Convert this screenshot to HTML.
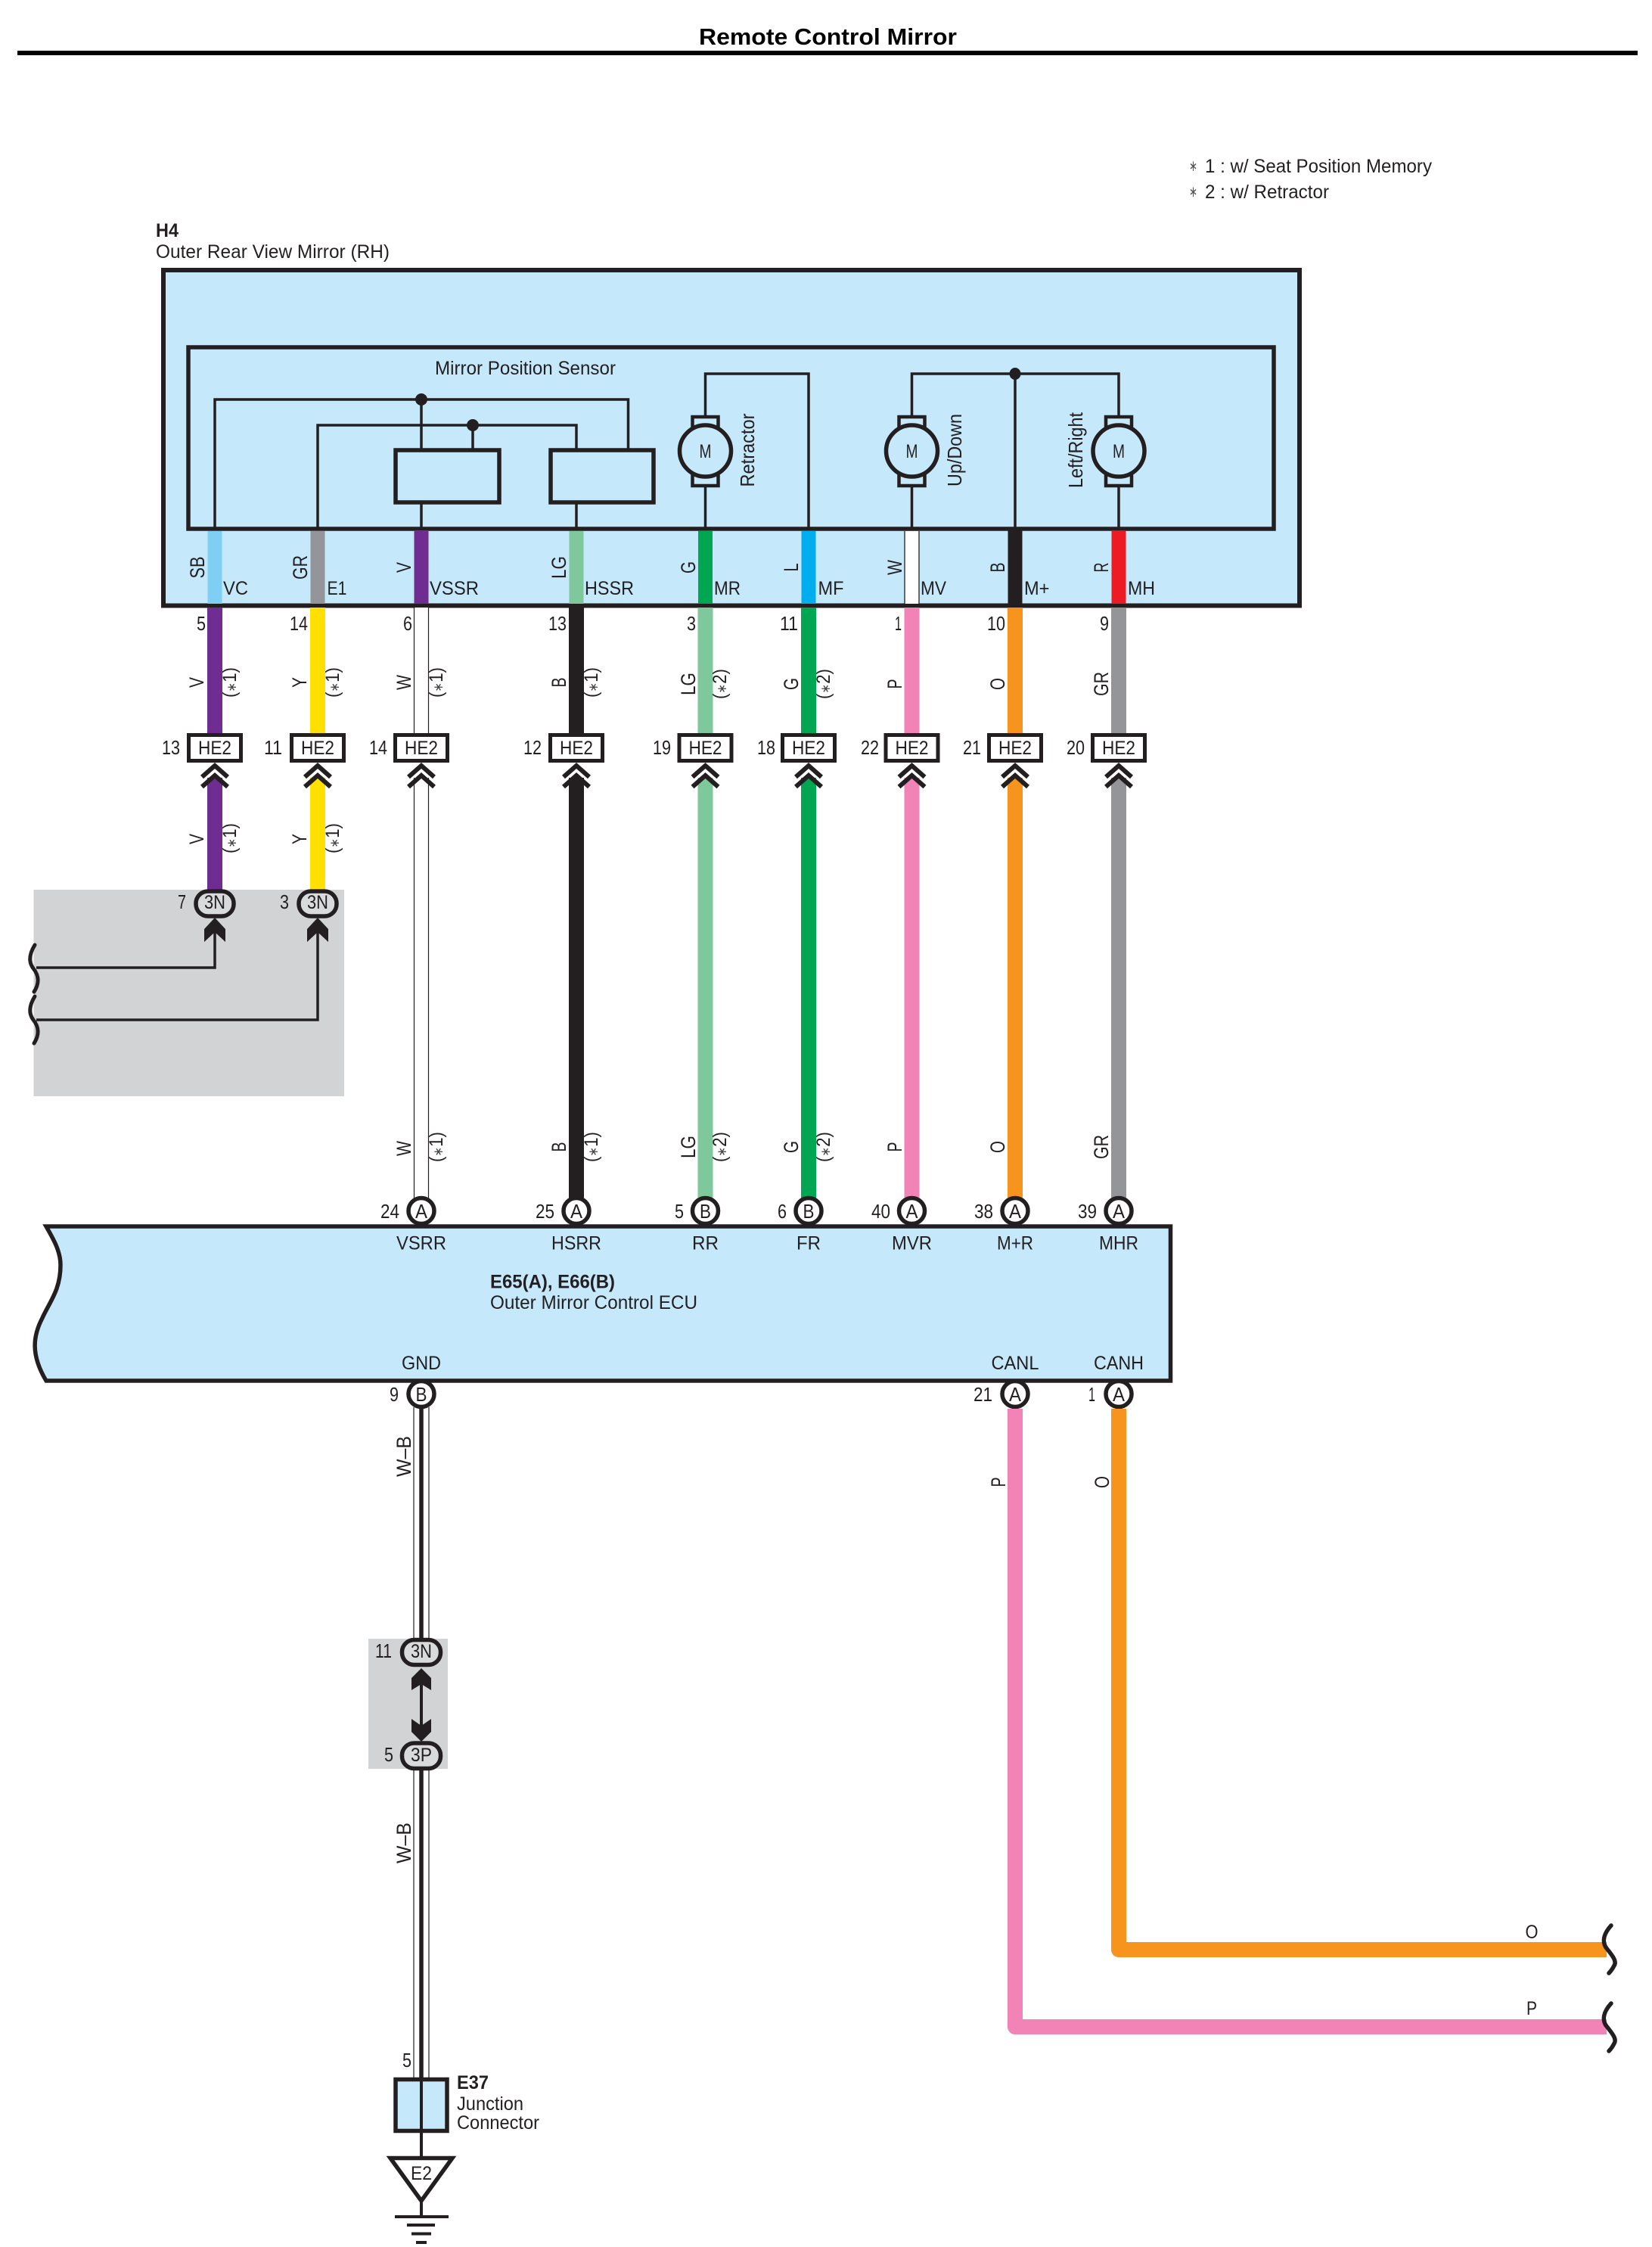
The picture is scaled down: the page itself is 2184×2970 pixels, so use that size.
<!DOCTYPE html>
<html><head><meta charset="utf-8"><title>Remote Control Mirror</title>
<style>
html,body{margin:0;padding:0;background:#fff}
svg{display:block}
text{font-family:"Liberation Sans",sans-serif;font-size:25px;fill:#231f20}
.b{font-weight:bold}
.m{text-anchor:middle}
.e{text-anchor:end;font-size:26px}
.r{font-size:27px;text-anchor:middle}
.s{font-size:25px;text-anchor:middle}
.s tspan{font-size:17px;fill:#444}
.t{font-size:26px;text-anchor:middle}
.l{fill:none;stroke:#231f20;stroke-width:3.5}
</style></head><body>
<svg xmlns="http://www.w3.org/2000/svg" width="2184" height="2970" viewBox="0 0 2184 2970">
<defs>
<g id="chev"><path d="M-17 1027L0 1012L17 1027M-17 1040L0 1025L17 1040" fill="none" stroke="#231f20" stroke-width="6"/></g>
<g id="motor"><rect x="-17" y="551" width="34" height="22" fill="#c5e8fb" stroke="#231f20" stroke-width="4.5"/><rect x="-17" y="620" width="34" height="22" fill="#c5e8fb" stroke="#231f20" stroke-width="4.5"/><ellipse cx="0" cy="596" rx="34" ry="34" fill="#c5e8fb" stroke="#231f20" stroke-width="5.5"/></g>
<g id="arrU"><path d="M0 0L14 15V32L0 19L-14 32V15Z" fill="#231f20"/></g>
<path id="sq" d="M0 0C-8 13-8 23-2 31C6 41 6 51-1 62" fill="none" stroke="#231f20" stroke-width="5" stroke-linecap="round"/>
</defs>
<rect width="2184" height="2970" fill="#fff"/>

<!-- title -->
<text class="b m" x="1094.500" y="59" style="font-size:31px;fill:#000" textLength="341" lengthAdjust="spacingAndGlyphs">Remote Control Mirror</text>
<rect x="23" y="67" width="2142" height="6" fill="#000"/>

<!-- notes -->
<text x="1572" y="226" style="font-size:20px;fill:#555" textLength="11" lengthAdjust="spacingAndGlyphs">∗</text>
<text x="1593" y="228" textLength="300" lengthAdjust="spacingAndGlyphs">1 : w/ Seat Position Memory</text>
<text x="1572" y="260" style="font-size:20px;fill:#555" textLength="11" lengthAdjust="spacingAndGlyphs">∗</text>
<text x="1593" y="262" textLength="164" lengthAdjust="spacingAndGlyphs">2 : w/ Retractor</text>

<text class="b" x="206" y="313" textLength="30" lengthAdjust="spacingAndGlyphs">H4</text>
<text x="206" y="341" textLength="309" lengthAdjust="spacingAndGlyphs">Outer Rear View Mirror (RH)</text>

<!-- mirror box -->
<rect x="216" y="357" width="1502" height="443.500" fill="#c5e8fb" stroke="#231f20" stroke-width="6"/>
<rect x="249" y="459" width="1435" height="240" fill="#c5e8fb" stroke="#231f20" stroke-width="5.500"/>

<text x="575" y="495" textLength="239" lengthAdjust="spacingAndGlyphs">Mirror Position Sensor</text>

<!-- internal wiring -->
<path class="l" d="M284 699V528H830.500V595M420 699V562H762V595M557 528V595M625 562V595M557 664V699M762 664V699"/>
<path class="l" d="M932.500 699V494H1069V699M1205.500 699V494H1479V699M1342 494V699"/>
<ellipse cx="557" cy="528" rx="8" ry="8" fill="#231f20"/>
<ellipse cx="625" cy="562" rx="8" ry="8" fill="#231f20"/>
<ellipse cx="1342" cy="494" rx="7.500" ry="8" fill="#231f20"/>
<rect x="523" y="595" width="137" height="69" fill="#c5e8fb" stroke="#231f20" stroke-width="5.500"/>
<rect x="728" y="595" width="136" height="69" fill="#c5e8fb" stroke="#231f20" stroke-width="5.500"/>
<use href="#motor" transform="translate(932.500,0)"/>
<use href="#motor" transform="translate(1205.500,0)"/>
<use href="#motor" transform="translate(1479,0)"/>
<text class="m" x="932.500" y="605" textLength="16" lengthAdjust="spacingAndGlyphs">M</text>
<text class="m" x="1205.500" y="605" textLength="16" lengthAdjust="spacingAndGlyphs">M</text>
<text class="m" x="1479" y="605" textLength="16" lengthAdjust="spacingAndGlyphs">M</text>
<text class="m" transform="translate(997,595) rotate(-90)" style="font-size:26px" textLength="97" lengthAdjust="spacingAndGlyphs">Retractor</text>
<text class="m" transform="translate(1271,595) rotate(-90)" style="font-size:26px" textLength="96" lengthAdjust="spacingAndGlyphs">Up/Down</text>
<text class="m" transform="translate(1431,595) rotate(-90)" style="font-size:26px" textLength="100" lengthAdjust="spacingAndGlyphs">Left/Right</text>

<!-- wire stubs inside box -->
<rect x="274.500" y="702" width="19" height="96" fill="#7fcff5"/>
<rect x="410.500" y="702" width="19" height="96" fill="#939598"/>
<rect x="547.500" y="702" width="19" height="96" fill="#6f2c91"/>
<rect x="752.500" y="702" width="19" height="96" fill="#7fc89b"/>
<rect x="923" y="702" width="19" height="96" fill="#00a651"/>
<rect x="1059.500" y="702" width="19" height="96" fill="#00aeef"/>
<rect x="1196" y="702" width="19" height="96" fill="#fff"/><path d="M1196 702V798M1215 702V798" stroke="#231f20" stroke-width="1.300"/>
<rect x="1332.500" y="697" width="19" height="101" fill="#231f20"/>
<rect x="1469.500" y="702" width="19" height="96" fill="#ed1c24"/>

<!-- stub labels -->
<text class="r" transform="translate(270,750) rotate(-90)" textLength="29" lengthAdjust="spacingAndGlyphs">SB</text>
<text class="r" transform="translate(406,750) rotate(-90)" textLength="32" lengthAdjust="spacingAndGlyphs">GR</text>
<text class="r" transform="translate(543,750) rotate(-90)" textLength="14" lengthAdjust="spacingAndGlyphs">V</text>
<text class="r" transform="translate(748,750) rotate(-90)" textLength="30" lengthAdjust="spacingAndGlyphs">LG</text>
<text class="r" transform="translate(919,750) rotate(-90)" textLength="16" lengthAdjust="spacingAndGlyphs">G</text>
<text class="r" transform="translate(1055,750) rotate(-90)" textLength="11" lengthAdjust="spacingAndGlyphs">L</text>
<text class="r" transform="translate(1192,750) rotate(-90)" textLength="20" lengthAdjust="spacingAndGlyphs">W</text>
<text class="r" transform="translate(1328,750) rotate(-90)" textLength="13" lengthAdjust="spacingAndGlyphs">B</text>
<text class="r" transform="translate(1465,750) rotate(-90)" textLength="13" lengthAdjust="spacingAndGlyphs">R</text>

<text x="295" y="786" textLength="33" lengthAdjust="spacingAndGlyphs">VC</text>
<text x="432.500" y="786" textLength="26" lengthAdjust="spacingAndGlyphs">E1</text>
<text x="568" y="786" textLength="65" lengthAdjust="spacingAndGlyphs">VSSR</text>
<text x="773" y="786" textLength="65" lengthAdjust="spacingAndGlyphs">HSSR</text>
<text x="944" y="786" textLength="35" lengthAdjust="spacingAndGlyphs">MR</text>
<text x="1081.500" y="786" textLength="34" lengthAdjust="spacingAndGlyphs">MF</text>
<text x="1217" y="786" textLength="34" lengthAdjust="spacingAndGlyphs">MV</text>
<text x="1354" y="786" textLength="33.500" lengthAdjust="spacingAndGlyphs">M+</text>
<text x="1491" y="786" textLength="36" lengthAdjust="spacingAndGlyphs">MH</text>

<!-- upper wire segments -->
<rect x="274" y="803" width="20" height="166" fill="#6f2c91"/>
<rect x="410" y="803" width="20" height="166" fill="#ffe000"/>
<rect x="547.500" y="803" width="19" height="166" fill="#fff"/><path d="M547.500 803V969M566.500 803V969" stroke="#231f20" stroke-width="1.200"/>
<rect x="752" y="803" width="20" height="166" fill="#231f20"/>
<rect x="922.500" y="803" width="20" height="166" fill="#7fc89b"/>
<rect x="1059" y="803" width="20" height="166" fill="#00a651"/>
<rect x="1195.500" y="803" width="20" height="166" fill="#f283b6"/>
<rect x="1332" y="803" width="20" height="166" fill="#f7941d"/>
<rect x="1469" y="803" width="20" height="166" fill="#939598"/>

<!-- upper pin numbers -->
<text class="e" x="272" y="833" textLength="12" lengthAdjust="spacingAndGlyphs">5</text>
<text class="e" x="407" y="833" textLength="24" lengthAdjust="spacingAndGlyphs">14</text>
<text class="e" x="545" y="833" textLength="12" lengthAdjust="spacingAndGlyphs">6</text>
<text class="e" x="749" y="833" textLength="24" lengthAdjust="spacingAndGlyphs">13</text>
<text class="e" x="920" y="833" textLength="12" lengthAdjust="spacingAndGlyphs">3</text>
<text class="e" x="1055" y="833" textLength="24" lengthAdjust="spacingAndGlyphs">11</text>
<text class="e" x="1192" y="833" textLength="9" lengthAdjust="spacingAndGlyphs">1</text>
<text class="e" x="1329" y="833" textLength="24" lengthAdjust="spacingAndGlyphs">10</text>
<text class="e" x="1466" y="833" textLength="12" lengthAdjust="spacingAndGlyphs">9</text>

<!-- upper wire colour labels -->
<text class="r" transform="translate(269,902) rotate(-90)" textLength="14" lengthAdjust="spacingAndGlyphs">V</text>
<text class="s" transform="translate(312,902) rotate(-90)" textLength="40" lengthAdjust="spacingAndGlyphs">(<tspan>∗</tspan>1)</text>
<text class="r" transform="translate(405,902) rotate(-90)" textLength="14" lengthAdjust="spacingAndGlyphs">Y</text>
<text class="s" transform="translate(448,902) rotate(-90)" textLength="40" lengthAdjust="spacingAndGlyphs">(<tspan>∗</tspan>1)</text>
<text class="r" transform="translate(543,902) rotate(-90)" textLength="20" lengthAdjust="spacingAndGlyphs">W</text>
<text class="s" transform="translate(585,902) rotate(-90)" textLength="40" lengthAdjust="spacingAndGlyphs">(<tspan>∗</tspan>1)</text>
<text class="r" transform="translate(748,902) rotate(-90)" textLength="13" lengthAdjust="spacingAndGlyphs">B</text>
<text class="s" transform="translate(790,902) rotate(-90)" textLength="40" lengthAdjust="spacingAndGlyphs">(<tspan>∗</tspan>1)</text>
<text class="r" transform="translate(919,904) rotate(-90)" textLength="30" lengthAdjust="spacingAndGlyphs">LG</text>
<text class="s" transform="translate(960,904) rotate(-90)" textLength="40" lengthAdjust="spacingAndGlyphs">(<tspan>∗</tspan>2)</text>
<text class="r" transform="translate(1055,904) rotate(-90)" textLength="16" lengthAdjust="spacingAndGlyphs">G</text>
<text class="s" transform="translate(1097,904) rotate(-90)" textLength="40" lengthAdjust="spacingAndGlyphs">(<tspan>∗</tspan>2)</text>
<text class="r" transform="translate(1192,904) rotate(-90)" textLength="13" lengthAdjust="spacingAndGlyphs">P</text>
<text class="r" transform="translate(1328,904) rotate(-90)" textLength="16" lengthAdjust="spacingAndGlyphs">O</text>
<text class="r" transform="translate(1465,904) rotate(-90)" textLength="32" lengthAdjust="spacingAndGlyphs">GR</text>

<!-- grey box A -->
<rect x="44.500" y="1176" width="410.500" height="273" fill="#d1d3d4"/>

<!-- lower wire segments -->
<rect x="274" y="1028" width="20" height="150" fill="#6f2c91"/>
<rect x="410" y="1028" width="20" height="150" fill="#ffe000"/>
<rect x="547.500" y="1028" width="19" height="556" fill="#fff"/><path d="M547.500 1028V1584M566.500 1028V1584" stroke="#231f20" stroke-width="1.200"/>
<rect x="752" y="1028" width="20" height="556" fill="#231f20"/>
<rect x="922.500" y="1028" width="20" height="556" fill="#7fc89b"/>
<rect x="1059" y="1028" width="20" height="556" fill="#00a651"/>
<rect x="1195.500" y="1028" width="20" height="556" fill="#f283b6"/>
<rect x="1332" y="1028" width="20" height="556" fill="#f7941d"/>
<rect x="1469" y="1028" width="20" height="556" fill="#939598"/>

<!-- chevrons -->
<use href="#chev" transform="translate(284,0)"/>
<use href="#chev" transform="translate(420,0)"/>
<use href="#chev" transform="translate(557,0)"/>
<use href="#chev" transform="translate(762,0)"/>
<use href="#chev" transform="translate(932.500,0)"/>
<use href="#chev" transform="translate(1069,0)"/>
<use href="#chev" transform="translate(1205.500,0)"/>
<use href="#chev" transform="translate(1342,0)"/>
<use href="#chev" transform="translate(1479,0)"/>

<!-- HE2 connectors -->
<rect x="249.500" y="971.500" width="69" height="34" fill="#fff" stroke="#231f20" stroke-width="5"/>
<rect x="385.500" y="971.500" width="69" height="34" fill="#fff" stroke="#231f20" stroke-width="5"/>
<rect x="522.500" y="971.500" width="69" height="34" fill="#fff" stroke="#231f20" stroke-width="5"/>
<rect x="727.500" y="971.500" width="69" height="34" fill="#fff" stroke="#231f20" stroke-width="5"/>
<rect x="898" y="971.500" width="69" height="34" fill="#fff" stroke="#231f20" stroke-width="5"/>
<rect x="1034.500" y="971.500" width="69" height="34" fill="#fff" stroke="#231f20" stroke-width="5"/>
<rect x="1171" y="971.500" width="69" height="34" fill="#fff" stroke="#231f20" stroke-width="5"/>
<rect x="1307.500" y="971.500" width="69" height="34" fill="#fff" stroke="#231f20" stroke-width="5"/>
<rect x="1444.500" y="971.500" width="69" height="34" fill="#fff" stroke="#231f20" stroke-width="5"/>
<text class="m" x="284" y="997" textLength="44" lengthAdjust="spacingAndGlyphs">HE2</text>
<text class="m" x="420" y="997" textLength="44" lengthAdjust="spacingAndGlyphs">HE2</text>
<text class="m" x="557" y="997" textLength="44" lengthAdjust="spacingAndGlyphs">HE2</text>
<text class="m" x="762" y="997" textLength="44" lengthAdjust="spacingAndGlyphs">HE2</text>
<text class="m" x="932.500" y="997" textLength="44" lengthAdjust="spacingAndGlyphs">HE2</text>
<text class="m" x="1069" y="997" textLength="44" lengthAdjust="spacingAndGlyphs">HE2</text>
<text class="m" x="1205.500" y="997" textLength="44" lengthAdjust="spacingAndGlyphs">HE2</text>
<text class="m" x="1342" y="997" textLength="44" lengthAdjust="spacingAndGlyphs">HE2</text>
<text class="m" x="1479" y="997" textLength="44" lengthAdjust="spacingAndGlyphs">HE2</text>
<text class="e" x="238" y="997" textLength="24" lengthAdjust="spacingAndGlyphs">13</text>
<text class="e" x="373" y="997" textLength="24" lengthAdjust="spacingAndGlyphs">11</text>
<text class="e" x="512" y="997" textLength="24" lengthAdjust="spacingAndGlyphs">14</text>
<text class="e" x="716" y="997" textLength="24" lengthAdjust="spacingAndGlyphs">12</text>
<text class="e" x="887" y="997" textLength="24" lengthAdjust="spacingAndGlyphs">19</text>
<text class="e" x="1025" y="997" textLength="24" lengthAdjust="spacingAndGlyphs">18</text>
<text class="e" x="1162" y="997" textLength="24" lengthAdjust="spacingAndGlyphs">22</text>
<text class="e" x="1297" y="997" textLength="24" lengthAdjust="spacingAndGlyphs">21</text>
<text class="e" x="1434" y="997" textLength="24" lengthAdjust="spacingAndGlyphs">20</text>

<!-- mid labels V/Y -->
<text class="r" transform="translate(269,1109) rotate(-90)" textLength="14" lengthAdjust="spacingAndGlyphs">V</text>
<text class="s" transform="translate(312,1108) rotate(-90)" textLength="40" lengthAdjust="spacingAndGlyphs">(<tspan>∗</tspan>1)</text>
<text class="r" transform="translate(405,1109) rotate(-90)" textLength="14" lengthAdjust="spacingAndGlyphs">Y</text>
<text class="s" transform="translate(448,1108) rotate(-90)" textLength="40" lengthAdjust="spacingAndGlyphs">(<tspan>∗</tspan>1)</text>

<!-- 3N connectors A -->
<rect x="259" y="1178" width="50" height="33" rx="16" fill="#d8dadb" stroke="#231f20" stroke-width="5.500"/>
<rect x="395" y="1178" width="50" height="33" rx="16" fill="#d8dadb" stroke="#231f20" stroke-width="5.500"/>
<text class="m" x="284" y="1201" textLength="28" lengthAdjust="spacingAndGlyphs">3N</text>
<text class="m" x="420" y="1201" textLength="28" lengthAdjust="spacingAndGlyphs">3N</text>
<text class="e" x="246" y="1201" textLength="11" lengthAdjust="spacingAndGlyphs">7</text>
<text class="e" x="382" y="1201" textLength="12" lengthAdjust="spacingAndGlyphs">3</text>
<use href="#arrU" transform="translate(284,1213)"/>
<use href="#arrU" transform="translate(420,1213)"/>
<path class="l" d="M284 1230V1279H48M420 1230V1348H48"/>
<use href="#sq" transform="translate(46,1249)"/>
<use href="#sq" transform="translate(46,1317)"/>

<!-- lower labels -->
<text class="r" transform="translate(543,1518) rotate(-90)" textLength="20" lengthAdjust="spacingAndGlyphs">W</text>
<text class="s" transform="translate(585,1516) rotate(-90)" textLength="40" lengthAdjust="spacingAndGlyphs">(<tspan>∗</tspan>1)</text>
<text class="r" transform="translate(748,1516) rotate(-90)" textLength="13" lengthAdjust="spacingAndGlyphs">B</text>
<text class="s" transform="translate(790,1516) rotate(-90)" textLength="40" lengthAdjust="spacingAndGlyphs">(<tspan>∗</tspan>1)</text>
<text class="r" transform="translate(919,1516) rotate(-90)" textLength="30" lengthAdjust="spacingAndGlyphs">LG</text>
<text class="s" transform="translate(960,1516) rotate(-90)" textLength="40" lengthAdjust="spacingAndGlyphs">(<tspan>∗</tspan>2)</text>
<text class="r" transform="translate(1055,1516) rotate(-90)" textLength="16" lengthAdjust="spacingAndGlyphs">G</text>
<text class="s" transform="translate(1097,1516) rotate(-90)" textLength="40" lengthAdjust="spacingAndGlyphs">(<tspan>∗</tspan>2)</text>
<text class="r" transform="translate(1192,1516) rotate(-90)" textLength="13" lengthAdjust="spacingAndGlyphs">P</text>
<text class="r" transform="translate(1328,1516) rotate(-90)" textLength="16" lengthAdjust="spacingAndGlyphs">O</text>
<text class="r" transform="translate(1465,1516) rotate(-90)" textLength="32" lengthAdjust="spacingAndGlyphs">GR</text>

<!-- ECU -->
<path d="M61 1621H1547.500V1825H61C40 1790 44 1765 56 1742C66 1720 80 1705 80 1672C80 1655 72 1640 61 1621Z" fill="#c5e8fb" stroke="#231f20" stroke-width="5.500"/>

<!-- terminals -->
<g fill="#fff" stroke="#231f20" stroke-width="5.500">
<circle cx="557" cy="1600.500" r="17"/><circle cx="762" cy="1600.500" r="17"/><circle cx="932.500" cy="1600.500" r="17"/><circle cx="1069" cy="1600.500" r="17"/><circle cx="1205.500" cy="1600.500" r="17"/><circle cx="1342" cy="1600.500" r="17"/><circle cx="1479" cy="1600.500" r="17"/>
<circle cx="1342" cy="1842.500" r="17"/><circle cx="1479" cy="1842.500" r="17"/>
</g>
<text class="t" x="557" y="1610" textLength="16" lengthAdjust="spacingAndGlyphs">A</text>
<text class="t" x="762" y="1610" textLength="16" lengthAdjust="spacingAndGlyphs">A</text>
<text class="t" x="932.500" y="1610" textLength="15" lengthAdjust="spacingAndGlyphs">B</text>
<text class="t" x="1069" y="1610" textLength="15" lengthAdjust="spacingAndGlyphs">B</text>
<text class="t" x="1205.500" y="1610" textLength="16" lengthAdjust="spacingAndGlyphs">A</text>
<text class="t" x="1342" y="1610" textLength="16" lengthAdjust="spacingAndGlyphs">A</text>
<text class="t" x="1479" y="1610" textLength="16" lengthAdjust="spacingAndGlyphs">A</text>
<text class="t" x="1342" y="1852" textLength="16" lengthAdjust="spacingAndGlyphs">A</text>
<text class="t" x="1479" y="1852" textLength="16" lengthAdjust="spacingAndGlyphs">A</text>
<text class="e" x="528" y="1610" textLength="25" lengthAdjust="spacingAndGlyphs">24</text>
<text class="e" x="733" y="1610" textLength="25" lengthAdjust="spacingAndGlyphs">25</text>
<text class="e" x="904" y="1610" textLength="12" lengthAdjust="spacingAndGlyphs">5</text>
<text class="e" x="1040" y="1610" textLength="12" lengthAdjust="spacingAndGlyphs">6</text>
<text class="e" x="1177" y="1610" textLength="25" lengthAdjust="spacingAndGlyphs">40</text>
<text class="e" x="1313" y="1610" textLength="25" lengthAdjust="spacingAndGlyphs">38</text>
<text class="e" x="1450" y="1610" textLength="25" lengthAdjust="spacingAndGlyphs">39</text>
<text class="e" x="527" y="1852" textLength="12" lengthAdjust="spacingAndGlyphs">9</text>
<text class="e" x="1312" y="1852" textLength="25" lengthAdjust="spacingAndGlyphs">21</text>
<text class="e" x="1448" y="1852" textLength="9" lengthAdjust="spacingAndGlyphs">1</text>

<text class="m" x="557" y="1651.500" textLength="66" lengthAdjust="spacingAndGlyphs">VSRR</text>
<text class="m" x="762" y="1651.500" textLength="66" lengthAdjust="spacingAndGlyphs">HSRR</text>
<text class="m" x="932.500" y="1651.500" textLength="35" lengthAdjust="spacingAndGlyphs">RR</text>
<text class="m" x="1069" y="1651.500" textLength="32" lengthAdjust="spacingAndGlyphs">FR</text>
<text class="m" x="1205.500" y="1651.500" textLength="53" lengthAdjust="spacingAndGlyphs">MVR</text>
<text class="m" x="1342" y="1651.500" textLength="48" lengthAdjust="spacingAndGlyphs">M+R</text>
<text class="m" x="1479" y="1651.500" textLength="52" lengthAdjust="spacingAndGlyphs">MHR</text>
<text class="m" x="557" y="1810" textLength="52" lengthAdjust="spacingAndGlyphs">GND</text>
<text class="m" x="1342" y="1810" textLength="63" lengthAdjust="spacingAndGlyphs">CANL</text>
<text class="m" x="1479" y="1810" textLength="66" lengthAdjust="spacingAndGlyphs">CANH</text>
<text class="b" x="648" y="1702.500" textLength="165" lengthAdjust="spacingAndGlyphs">E65(A), E66(B)</text>
<text x="648" y="1730" textLength="274" lengthAdjust="spacingAndGlyphs">Outer Mirror Control ECU</text>

<!-- CAN wires -->
<path d="M1342 1862V2679H2124" fill="none" stroke="#f283b6" stroke-width="20" stroke-linejoin="round"/>
<path d="M1479 1862V2577H2124" fill="none" stroke="#f7941d" stroke-width="20" stroke-linejoin="round"/>
<path d="M2130 2545C2120 2556 2118 2566 2123 2574C2131 2584 2138 2592 2134 2598C2132 2602 2130 2605 2127 2608" fill="none" stroke="#231f20" stroke-width="5.500" stroke-linecap="round"/>
<path d="M2130 2648C2120 2659 2118 2669 2123 2677C2131 2687 2138 2695 2134 2701C2132 2705 2130 2708 2127 2711" fill="none" stroke="#231f20" stroke-width="5.500" stroke-linecap="round"/>
<text class="m" x="2025" y="2562" textLength="17" lengthAdjust="spacingAndGlyphs">O</text>
<text class="m" x="2025" y="2663" textLength="14" lengthAdjust="spacingAndGlyphs">P</text>
<text class="r" transform="translate(1329,1959) rotate(-90)" textLength="13" lengthAdjust="spacingAndGlyphs">P</text>
<text class="r" transform="translate(1466,1959) rotate(-90)" textLength="16" lengthAdjust="spacingAndGlyphs">O</text>

<!-- GND wire -->
<rect x="487" y="2166" width="105" height="172" fill="#d1d3d4"/>
<rect x="547" y="1860" width="20" height="305" fill="#fff"/>
<path d="M547 1860V2165M567 1860V2165" stroke="#231f20" stroke-width="1.200"/>
<path d="M557 1860V2165" stroke="#231f20" stroke-width="5.500"/>
<rect x="547" y="2340" width="20" height="406" fill="#fff"/>
<path d="M547 2340V2746M567 2340V2746" stroke="#231f20" stroke-width="1.200"/>
<path d="M557 2340V2746" stroke="#231f20" stroke-width="5.500"/>
<circle cx="557" cy="1842.500" r="17" fill="#fff" stroke="#231f20" stroke-width="5.500"/>
<text class="t" x="557" y="1852" textLength="15" lengthAdjust="spacingAndGlyphs">B</text>
<text class="r" transform="translate(543,1925) rotate(-90)" textLength="54" lengthAdjust="spacingAndGlyphs">W–B</text>
<text class="r" transform="translate(543,2436) rotate(-90)" textLength="54" lengthAdjust="spacingAndGlyphs">W–B</text>

<rect x="531.500" y="2167.500" width="51" height="33" rx="16" fill="#d8dadb" stroke="#231f20" stroke-width="5.500"/>
<rect x="531.500" y="2304" width="51" height="33.500" rx="16" fill="#d8dadb" stroke="#231f20" stroke-width="5.500"/>
<text class="m" x="557" y="2191" textLength="28" lengthAdjust="spacingAndGlyphs">3N</text>
<text class="m" x="557" y="2328" textLength="28" lengthAdjust="spacingAndGlyphs">3P</text>
<text class="e" x="518" y="2191" textLength="22" lengthAdjust="spacingAndGlyphs">11</text>
<text class="e" x="520" y="2328" textLength="12" lengthAdjust="spacingAndGlyphs">5</text>
<path d="M557 2205L570 2218V2234L557 2226L544 2234V2218Z" fill="#231f20"/>
<path d="M557 2302L570 2289V2272L557 2281L544 2272V2289Z" fill="#231f20"/>
<path d="M557 2226V2281" stroke="#231f20" stroke-width="4"/>

<!-- E37 junction -->
<text class="e" x="544" y="2732" textLength="12" lengthAdjust="spacingAndGlyphs">5</text>
<rect x="523" y="2748.500" width="68" height="68" fill="#c5e8fb" stroke="#231f20" stroke-width="5.500"/>
<path d="M557 2746V2850" stroke="#231f20" stroke-width="4"/>
<text class="b" x="604" y="2761" textLength="42" lengthAdjust="spacingAndGlyphs">E37</text>
<text x="604" y="2789" textLength="88" lengthAdjust="spacingAndGlyphs">Junction</text>
<text x="604" y="2814" textLength="109" lengthAdjust="spacingAndGlyphs">Connector</text>

<!-- ground -->
<path d="M516 2852.500H598L557 2909Z" fill="#fff" stroke="#231f20" stroke-width="5.500"/>
<text class="m" x="557" y="2881" textLength="28" lengthAdjust="spacingAndGlyphs">E2</text>
<path d="M557 2910V2930" stroke="#231f20" stroke-width="4"/>
<path d="M522 2930H593M538 2941H575M544 2952.500H570M550 2964H564" stroke="#231f20" stroke-width="4"/>
</svg>
</body></html>
